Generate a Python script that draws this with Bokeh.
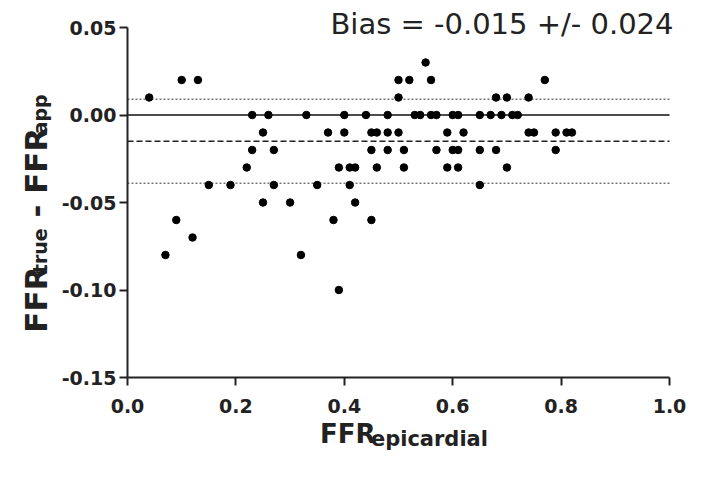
import math
from bokeh.plotting import figure
from bokeh.models import Range1d, FixedTicker, Label, NumeralTickFormatter
from bokeh.embed import file_html
from bokeh.resources import INLINE

# ---- data ----
ffr_epicardial = [
    0.55,
    0.10, 0.13, 0.50, 0.52, 0.56, 0.77,
    0.04, 0.50, 0.68, 0.70, 0.74,
    0.23, 0.26, 0.33, 0.40, 0.44, 0.48, 0.53, 0.54, 0.56, 0.57, 0.60, 0.61,
    0.65, 0.67, 0.69, 0.71, 0.72,
    0.25, 0.37, 0.40, 0.45, 0.46, 0.48, 0.50, 0.59, 0.62, 0.74, 0.75, 0.79, 0.81, 0.82,
    0.23, 0.27, 0.45, 0.48, 0.51, 0.57, 0.60, 0.61, 0.65, 0.68, 0.79,
    0.22, 0.39, 0.41, 0.42, 0.46, 0.51, 0.59, 0.61, 0.70,
    0.15, 0.19, 0.27, 0.35, 0.41, 0.65,
    0.25, 0.30, 0.42,
    0.09, 0.38, 0.45,
    0.12,
    0.07, 0.32,
    0.39,
]
ffr_difference = [
    0.03,
    0.02, 0.02, 0.02, 0.02, 0.02, 0.02,
    0.01, 0.01, 0.01, 0.01, 0.01,
    0.00, 0.00, 0.00, 0.00, 0.00, 0.00, 0.00, 0.00, 0.00, 0.00, 0.00, 0.00,
    0.00, 0.00, 0.00, 0.00, 0.00,
    -0.01, -0.01, -0.01, -0.01, -0.01, -0.01, -0.01, -0.01, -0.01, -0.01, -0.01, -0.01, -0.01, -0.01,
    -0.02, -0.02, -0.02, -0.02, -0.02, -0.02, -0.02, -0.02, -0.02, -0.02, -0.02,
    -0.03, -0.03, -0.03, -0.03, -0.03, -0.03, -0.03, -0.03, -0.03,
    -0.04, -0.04, -0.04, -0.04, -0.04, -0.04,
    -0.05, -0.05, -0.05,
    -0.06, -0.06, -0.06,
    -0.07,
    -0.08, -0.08,
    -0.10,
]
bias = -0.015
limit_halfwidth = 0.024
upper_limit = bias + limit_halfwidth
lower_limit = bias - limit_halfwidth
x_ticks = [0.0, 0.2, 0.4, 0.6, 0.8, 1.0]
y_ticks = [-0.15, -0.10, -0.05, 0.00, 0.05]
bias_text = "Bias = -0.015 +/- 0.024"
x_label_main, x_label_sub = "FFR", "epicardial"
y_label_parts = [("FFR", False), ("true", True), (" - FFR", False), ("app", True)]

# ---- layout (pixels) ----
X0, X1 = x_ticks[0], x_ticks[-1]
Y0, Y1 = y_ticks[0], y_ticks[-1]
TOTW, TOTH = 688, 468
LEFT, TOP = 127, 27
FW, FH = 542, 350


def dx(px):
    return px * (X1 - X0) / FW


def dy(px):
    return px * (Y1 - Y0) / FH


x_range = Range1d(X0 - dx(LEFT), X1 + dx(TOTW - LEFT - FW))
y_range = Range1d(Y0 - dy(TOTH - TOP - FH), Y1 + dy(TOP))

p = figure(frame_width=TOTW, frame_height=TOTH,
           x_range=x_range, y_range=y_range,
           output_backend="svg", toolbar_location=None, min_border=0)
p.outline_line_color = None
p.grid.visible = False
p.background_fill_color = "white"
p.border_fill_color = "white"

# reference lines across the data area
p.segment(x0=[X0], x1=[X1], y0=[0.0], y1=[0.0], line_color="#111111", line_width=1.6)
p.segment(x0=[X0], x1=[X1], y0=[bias], y1=[bias], line_color="#222222",
          line_width=1.3, line_dash="6 3")
p.segment(x0=[X0, X0], x1=[X1, X1], y0=[upper_limit, lower_limit],
          y1=[upper_limit, lower_limit], line_color="#777777",
          line_width=1.6, line_dash="2 2")

# points
p.scatter(ffr_epicardial, ffr_difference, size=7.5, color="black")

# axes, crossing at the corner of the data area
for ax in (p.xaxis[0], p.yaxis[0]):
    ax.axis_line_width = 2
    ax.axis_line_color = "#222222"
    ax.major_tick_line_width = 2
    ax.major_tick_line_color = "#222222"
    ax.major_tick_out = 8
    ax.major_tick_in = 0
    ax.minor_tick_line_color = None
    ax.major_label_text_font = "DejaVu Sans"
    ax.major_label_text_font_style = "bold"
    ax.major_label_text_font_size = "19px"
    ax.major_label_text_color = "#222222"

p.xaxis.ticker = FixedTicker(ticks=x_ticks)
p.xaxis.formatter = NumeralTickFormatter(format="0.0")
p.xaxis.major_label_standoff = 13
p.xaxis.fixed_location = Y0
p.xaxis.bounds = (X0, X1)
p.yaxis.ticker = FixedTicker(ticks=y_ticks)
p.yaxis.formatter = NumeralTickFormatter(format="0.00")
p.yaxis.major_label_standoff = 3
p.yaxis.fixed_location = X0
p.yaxis.bounds = (Y0, Y1)

# bias text
p.add_layout(Label(x=X1 + dx(4), y=Y1 + dy(4), text=bias_text,
                   text_font="DejaVu Sans", text_font_size="29px",
                   text_color="#222222", text_align="right",
                   text_baseline="alphabetic"))

# approximate advance widths of DejaVu Sans Bold (em)
W = {"F": 0.575, "R": 0.770, " ": 0.348, "-": 0.415, "t": 0.478, "r": 0.493,
     "u": 0.712, "e": 0.678, "a": 0.675, "p": 0.716, "c": 0.593, "i": 0.343,
     "d": 0.716, "l": 0.343}


def width(s, size):
    return sum(W.get(ch, 0.6) for ch in s) * size


# x-axis label
XM, XS = 26, 21
wm, ws = width(x_label_main, XM), width(x_label_sub, XS)
start = FW / 2 - (wm + ws) / 2 + 5
base = 56
p.add_layout(Label(x=X0 + dx(start), y=Y0 - dy(base), text=x_label_main,
                   text_font="DejaVu Sans", text_font_style="bold",
                   text_font_size=f"{XM}px", text_color="#222222",
                   text_align="left", text_baseline="alphabetic"))
p.add_layout(Label(x=X0 + dx(start + wm + 1), y=Y0 - dy(base + 5), text=x_label_sub,
                   text_font="DejaVu Sans", text_font_style="bold",
                   text_font_size=f"{XS}px", text_color="#222222",
                   text_align="left", text_baseline="alphabetic"))

# y-axis label (rotated, reads bottom to top)
YM, YS = 31, 19
sizes = [YS if sub else YM for _, sub in y_label_parts]
widths = [width(t, s) for (t, _), s in zip(y_label_parts, sizes)]
total = sum(widths)
center_from_top = 186  # px below the data-area top
pos = center_from_top + total / 2
base_x = 92  # px left of the data area
for (t, sub), s, w in zip(y_label_parts, sizes, widths):
    bx = base_x - (4 if sub else 0)
    lead = len(t) - len(t.lstrip(" "))
    shown = t.lstrip(" ")
    p.add_layout(Label(x=X0 - dx(bx), y=Y1 - dy(pos - width(" " * lead, s)),
                       text=shown, angle=math.pi / 2,
                       text_font="DejaVu Sans", text_font_style="bold",
                       text_font_size=f"{s}px", text_color="#222222",
                       text_align="left", text_baseline="alphabetic"))
    pos -= w

open("out.html", "w").write(file_html(p, INLINE))
